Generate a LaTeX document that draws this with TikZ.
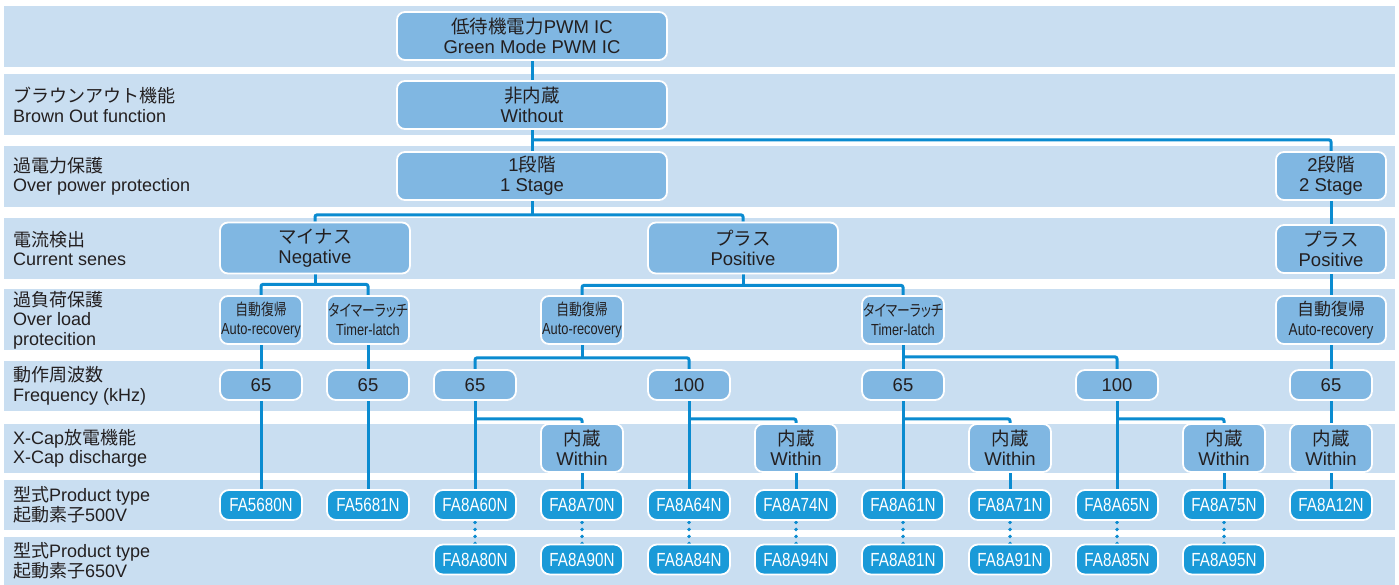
\documentclass[tikz,border=0pt]{standalone}
\usepackage{fontspec}
\setmainfont{Liberation Sans}
\newfontfamily\jp{Noto Sans CJK JP}
\newfontfamily\jpcond{Noto Sans CJK JP}[FakeStretch=0.8, RawFeature=+palt]
\newfontfamily\condsans{Liberation Sans}[FakeStretch=0.8]
\usetikzlibrary{calc}

\definecolor{bandblue}{RGB}{201,222,241}
\definecolor{boxblue}{RGB}{128,183,226}
\definecolor{prodblue}{RGB}{26,154,216}
\definecolor{connblue}{RGB}{10,139,208}
\definecolor{inkgray}{RGB}{35,31,32}

\pgfdeclarelayer{bands}
\pgfdeclarelayer{links}
\pgfsetlayers{bands,links,main}

\tikzset{
  bandfill/.style={fill=bandblue},
  basebox/.style={draw=white, line width=1.8pt, fill=boxblue, rounded corners=8pt,
    text=inkgray, align=center, inner sep=0pt, font=\fontsize{18.5}{20}\selectfont},
  bigbox/.style={basebox, minimum width=270pt, minimum height=48pt},
  midbox/.style={basebox, minimum width=190pt, minimum height=51pt},
  sidebox/.style={basebox, minimum width=110pt, minimum height=48pt},
  smallbox/.style={basebox, minimum width=82pt, minimum height=48pt},
  narrowbox/.style={smallbox, font=\fontsize{16}{19}\selectfont},
  freqbox/.style={basebox, rounded corners=9pt, minimum width=82pt, minimum height=30pt},
  prodbox/.style={basebox, rounded corners=9pt, fill=prodblue, text=white,
    minimum width=82pt, minimum height=30pt, font=\fontsize{19}{20}\selectfont\condsans},
  rowlabel/.style={anchor=west, align=left, text=inkgray, inner sep=0pt,
    font=\fontsize{18}{19.5}\selectfont},
  conn/.style={connblue, line width=3pt, rounded corners=2pt},
  dotconn/.style={connblue, line width=3.8pt, line cap=round, dash pattern=on 0pt off 7pt,
    shorten <=1.5pt}
}

\begin{document}
\begin{tikzpicture}[x=1pt, y=-1pt]
\def\lx{13}
\useasboundingbox (0,0) rectangle (1399,585);

\begin{pgfonlayer}{bands}
\fill[white] (0,0) rectangle (1399,585);
\fill[bandfill] (4,6) rectangle (1395,67);
\fill[bandfill] (4,74) rectangle (1395,135);
\fill[bandfill] (4,146) rectangle (1395,207);
\fill[bandfill] (4,218) rectangle (1395,279);
\fill[bandfill] (4,289) rectangle (1395,350);
\fill[bandfill] (4,361) rectangle (1395,411);
\fill[bandfill] (4,424) rectangle (1395,473);
\fill[bandfill] (4,480) rectangle (1395,530);
\fill[bandfill] (4,537) rectangle (1395,585);
\end{pgfonlayer}

\node[rowlabel] (lblbrown) at (\lx,105) {{\jp ブラウンアウト機能}\\Brown Out function};
\node[rowlabel] (lblpower) at (\lx,176.5) {{\jp 過電力保護}\\Over power protection};
\node[rowlabel] (lblsense) at (\lx,248.5) {{\jp 電流検出}\\Current senes};
\node[rowlabel] (lblload) at (\lx,320) {{\jp 過負荷保護}\\Over load\\protecition};
\node[rowlabel] (lblfreq) at (\lx,386) {{\jp 動作周波数}\\Frequency (kHz)};
\node[rowlabel] (lblxcap) at (\lx,448.5) {X-Cap{\jp 放電機能}\\X-Cap discharge};
\node[rowlabel] (lbltype) at (\lx,505) {{\jp 型式}Product type\\{\jp 起動素子}500V};
\node[rowlabel] (lbltypeb) at (\lx,561) {{\jp 型式}Product type\\{\jp 起動素子}650V};

\node[bigbox] (pwmic) at (532,36) {{\jp 低待機電力}PWM IC\\Green Mode PWM IC};
\node[bigbox] (without) at (532,105) {{\jp 非内蔵}\\Without};
\node[bigbox] (stage1) at (532,176) {1{\jp 段階}\\1 Stage};
\node[sidebox] (stage2) at (1331,176) {2{\jp 段階}\\2 Stage};
\node[midbox] (negative) at (315,248) {{\jp マイナス}\\Negative};
\node[midbox] (posmid) at (743,248) {{\jp プラス}\\Positive};
\node[sidebox] (posright) at (1331,249) {{\jp プラス}\\Positive};

\node[narrowbox] (ar1) at (261,320) {{\jpcond 自動復帰}\\{\condsans Auto-recovery}};
\node[narrowbox] (tl2) at (368,320) {{\jpcond タイマーラッチ}\\{\condsans Timer-latch}};
\node[narrowbox] (ar4) at (582,320) {{\jpcond 自動復帰}\\{\condsans Auto-recovery}};
\node[narrowbox] (tl7) at (903,320) {{\jpcond タイマーラッチ}\\{\condsans Timer-latch}};
\node[sidebox, font=\fontsize{17}{20}\selectfont] (ar11) at (1331,320) {{\jp 自動復帰}\\{\condsans Auto-recovery}};

\node[freqbox] (f1) at (261,385) {65};
\node[freqbox] (f2) at (368,385) {65};
\node[freqbox] (f3) at (475,385) {65};
\node[freqbox] (f5) at (689,385) {100};
\node[freqbox] (f7) at (903,385) {65};
\node[freqbox] (f9) at (1117,385) {100};
\node[freqbox] (f11) at (1331,385) {65};

\node[smallbox] (w4) at (582,448) {{\jp 内蔵}\\Within};
\node[smallbox] (w6) at (796,448) {{\jp 内蔵}\\Within};
\node[smallbox] (w8) at (1010,448) {{\jp 内蔵}\\Within};
\node[smallbox] (w10) at (1224,448) {{\jp 内蔵}\\Within};
\node[smallbox] (w11) at (1331,448) {{\jp 内蔵}\\Within};

\node[prodbox] (p1) at (261,505) {FA5680N};
\node[prodbox] (p2) at (368,505) {FA5681N};
\node[prodbox] (p3) at (475,505) {FA8A60N};
\node[prodbox] (p4) at (582,505) {FA8A70N};
\node[prodbox] (p5) at (689,505) {FA8A64N};
\node[prodbox] (p6) at (796,505) {FA8A74N};
\node[prodbox] (p7) at (903,505) {FA8A61N};
\node[prodbox] (p8) at (1010,505) {FA8A71N};
\node[prodbox] (p9) at (1117,505) {FA8A65N};
\node[prodbox] (p10) at (1224,505) {FA8A75N};
\node[prodbox] (p11) at (1331,505) {FA8A12N};

\node[prodbox] (q3) at (475,559.5) {FA8A80N};
\node[prodbox] (q4) at (582,559.5) {FA8A90N};
\node[prodbox] (q5) at (689,559.5) {FA8A84N};
\node[prodbox] (q6) at (796,559.5) {FA8A94N};
\node[prodbox] (q7) at (903,559.5) {FA8A81N};
\node[prodbox] (q8) at (1010,559.5) {FA8A91N};
\node[prodbox] (q9) at (1117,559.5) {FA8A85N};
\node[prodbox] (q10) at (1224,559.5) {FA8A95N};

\coordinate (wofork) at ($(without.south)+(0,10)$);
\coordinate (s1fork) at ($(stage1.south)+(0,14)$);
\coordinate (negfork) at ($(negative.south)+(0,10)$);
\coordinate (posfork) at ($(posmid.south)+(0,11)$);
\coordinate (arfork) at ($(ar4.south)+(0,13)$);
\coordinate (tlfork) at ($(tl7.south)+(0,12)$);
\coordinate (f3fork) at ($(f3.south)+(0,18)$);
\coordinate (f5fork) at ($(f5.south)+(0,18)$);
\coordinate (f7fork) at ($(f7.south)+(0,18)$);
\coordinate (f9fork) at ($(f9.south)+(0,18)$);

\begin{pgfonlayer}{links}
\draw[conn] (pwmic) -- (without);
\draw[conn] (without) -- (stage1);
\draw[conn] (wofork) -| (stage2.north);
\draw[conn] (stage1.south) -- (s1fork);
\draw[conn] (negative.north) |- (s1fork) -| (posmid.north);
\draw[conn] (stage2) -- (posright);
\draw[conn] (negative.south) -- (negfork);
\draw[conn] (ar1.north) |- (negfork) -| (tl2.north);
\draw[conn] (posmid.south) -- (posfork);
\draw[conn] (ar4.north) |- (posfork) -| (tl7.north);
\draw[conn] (posright) -- (ar11);

\draw[conn] (ar1) -- (f1);
\draw[conn] (tl2) -- (f2);
\draw[conn] (ar4.south) -- (arfork);
\draw[conn] (f3.north) |- (arfork) -| (f5.north);
\draw[conn] (tl7) -- (f7);
\draw[conn] (tlfork) -| (f9.north);
\draw[conn] (ar11) -- (f11);

\draw[conn] (f1) -- (p1);
\draw[conn] (f2) -- (p2);
\draw[conn] (f3) -- (p3);
\draw[conn] (f3fork) -| (w4.north);
\draw[conn] (w4) -- (p4);
\draw[conn] (f5) -- (p5);
\draw[conn] (f5fork) -| (w6.north);
\draw[conn] (w6) -- (p6);
\draw[conn] (f7) -- (p7);
\draw[conn] (f7fork) -| (w8.north);
\draw[conn] (w8) -- (p8);
\draw[conn] (f9) -- (p9);
\draw[conn] (f9fork) -| (w10.north);
\draw[conn] (w10) -- (p10);
\draw[conn] (f11) -- (w11);
\draw[conn] (w11) -- (p11);

\draw[dotconn] (p3) -- (q3);
\draw[dotconn] (p4) -- (q4);
\draw[dotconn] (p5) -- (q5);
\draw[dotconn] (p6) -- (q6);
\draw[dotconn] (p7) -- (q7);
\draw[dotconn] (p8) -- (q8);
\draw[dotconn] (p9) -- (q9);
\draw[dotconn] (p10) -- (q10);
\end{pgfonlayer}
\end{tikzpicture}
\end{document}
